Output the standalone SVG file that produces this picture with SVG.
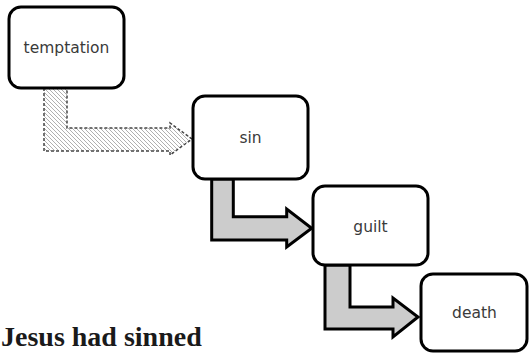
<svg xmlns="http://www.w3.org/2000/svg" width="529" height="353" viewBox="0 0 529 353">
<style>
.box{fill:#fff;stroke:#000;stroke-width:3}
.lbl{font-family:"DejaVu Sans",Verdana,sans-serif;font-size:15.5px;fill:#3a3a3a;text-anchor:middle}
.solid{fill:#cccccc;stroke:#000;stroke-width:3;stroke-linejoin:miter}
.hatch{fill:url(#hp);stroke:#444;stroke-width:1.5;stroke-dasharray:3 2}
</style>
<defs>
<pattern id="hp" patternUnits="userSpaceOnUse" width="4" height="4">
<rect width="4" height="4" fill="#fff"/>
<path d="M-1,-1 L5,5 M3,-1 L5,1 M-1,3 L1,5" stroke="#b0b0b0" stroke-width="1"/>
</pattern>
</defs>
<rect width="529" height="353" fill="#fff"/>
<g id="connectors">
<polygon class="hatch" points="44,88 44,151 170,151 170,155 192,139 170,123 170,128 67,128 67,88"/>
<polygon class="solid" points="211.7,179 211.7,240 286.7,240 286.7,247 311.7,228.3 286.7,209 286.7,216.7 233.3,216.7 233.3,179"/>
<polygon class="solid" points="325,265 325,329 393,329 393,337 418,317 393,298 393,307 350,307 350,265"/>
</g>
<g id="temptation">
<rect class="box" x="9" y="7" width="115" height="81" rx="12"/>
<text class="lbl" x="66.5" y="53">temptation</text>
</g>
<g id="sin">
<rect class="box" x="193" y="96" width="115" height="83" rx="12"/>
<text class="lbl" x="250.5" y="143">sin</text>
</g>
<g id="guilt">
<rect class="box" x="313" y="186" width="115" height="79" rx="12"/>
<text class="lbl" x="370.5" y="232">guilt</text>
</g>
<g id="death">
<rect class="box" x="421" y="274" width="106" height="77" rx="12"/>
<text class="lbl" x="474.5" y="318">death</text>
</g>
<text x="1" y="346" font-family="Liberation Serif,Times New Roman,serif" font-weight="bold" font-size="28" fill="#1a1a1a">Jesus had sinned</text>
</svg>
